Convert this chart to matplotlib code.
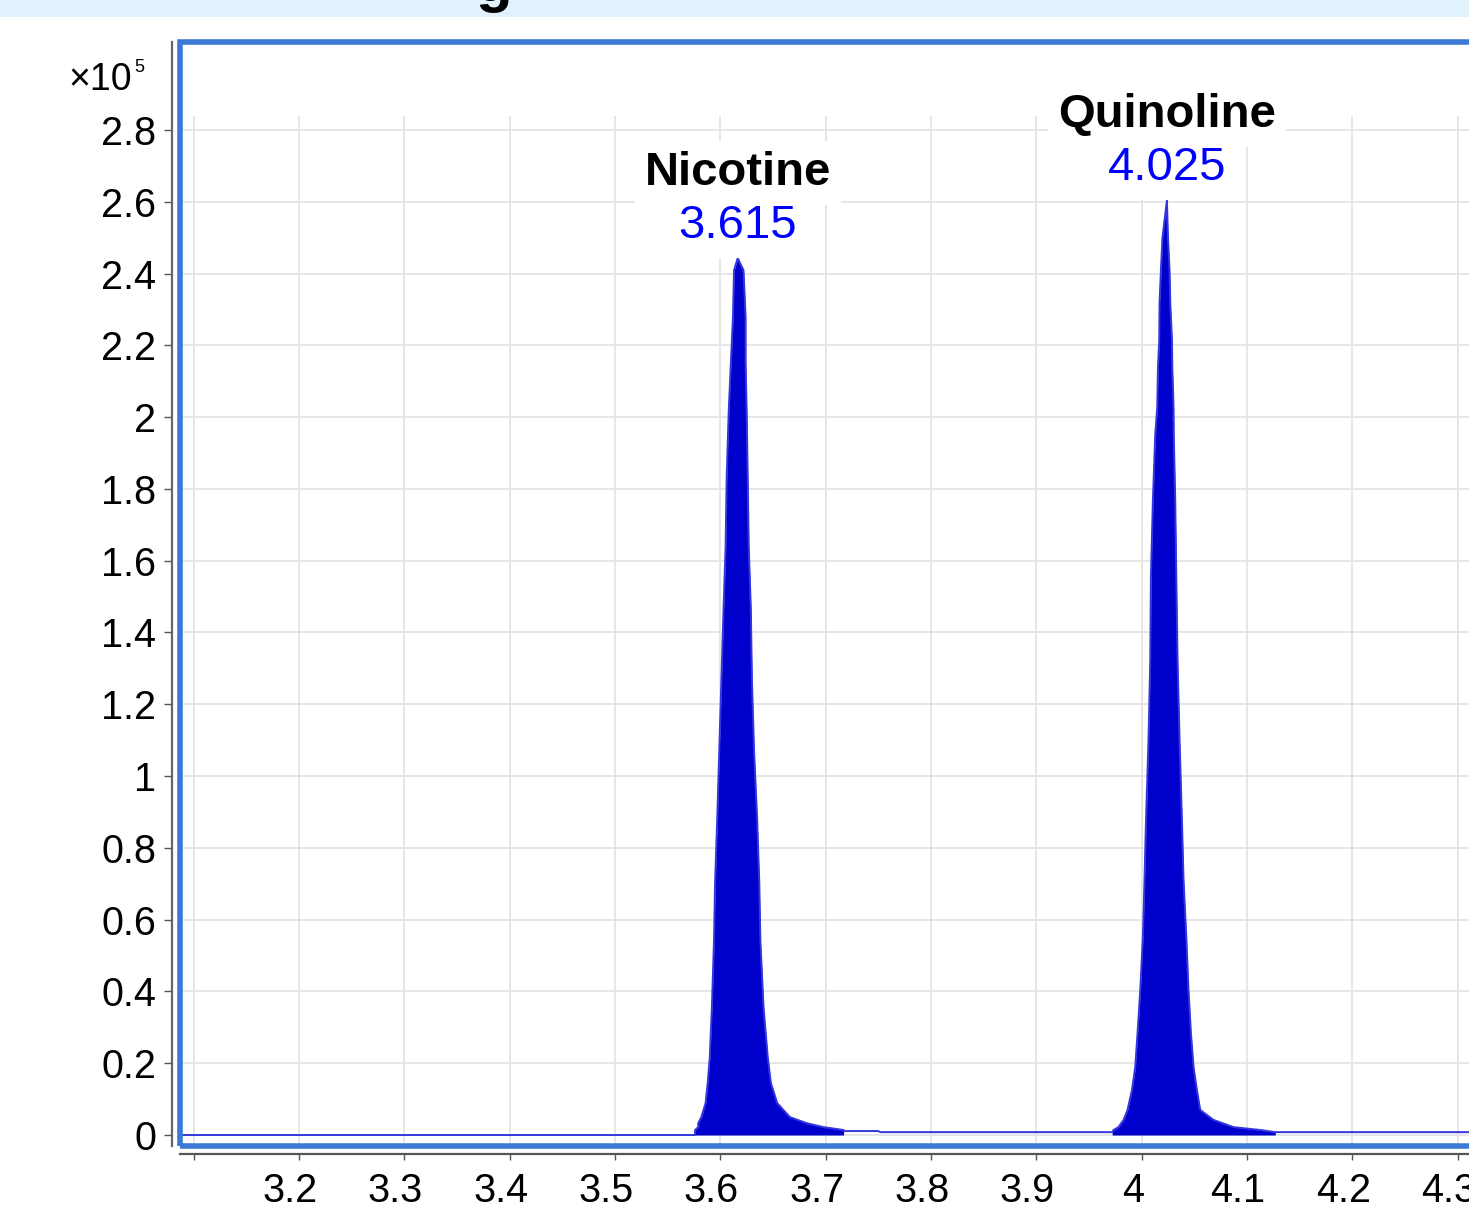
import numpy as np
import matplotlib
matplotlib.use("Agg")
import matplotlib.pyplot as plt
from matplotlib.patches import Rectangle
from matplotlib.transforms import ScaledTranslation

# chromatogram trace, intensity in units of 1e5 counts
nic_rt = [3.576, 3.576, 3.579, 3.579, 3.582, 3.586, 3.588, 3.590, 3.592, 3.594,
          3.595, 3.597, 3.599, 3.601, 3.603, 3.605, 3.606, 3.608, 3.610, 3.612,
          3.613, 3.6165, 3.622, 3.624, 3.624, 3.625, 3.626, 3.627, 3.629, 3.630,
          3.632, 3.635, 3.637, 3.638, 3.641, 3.645, 3.648, 3.654, 3.666, 3.682,
          3.698, 3.717]
nic_int = [0.0, 0.014, 0.022, 0.033, 0.050, 0.089, 0.145, 0.217, 0.357, 0.543,
           0.702, 0.877, 1.072, 1.267, 1.462, 1.638, 1.833, 2.019, 2.150, 2.279,
           2.409, 2.443, 2.409, 2.279, 2.150, 2.019, 1.833, 1.638, 1.462, 1.267,
           1.072, 0.877, 0.702, 0.543, 0.357, 0.217, 0.145, 0.089, 0.050, 0.033,
           0.022, 0.014]

qui_rt = [3.972, 3.9733, 3.978, 3.9828, 3.9866, 3.9908, 3.9939, 3.9961, 3.9987,
          4.0012, 4.0027, 4.0041, 4.0065, 4.0082, 4.0088, 4.0107, 4.0129, 4.0148,
          4.0155, 4.0167, 4.0170, 4.0183, 4.0198, 4.0240, 4.0250, 4.0265, 4.0272,
          4.0288, 4.0291, 4.0303, 4.0305, 4.0319, 4.0329, 4.0341, 4.0360, 4.0383,
          4.0398, 4.0424, 4.0445, 4.0468, 4.0493, 4.0525, 4.0556, 4.0683, 4.0873,
          4.1126, 4.1269]
qui_int = [0.008, 0.014, 0.022, 0.042, 0.070, 0.125, 0.189, 0.284, 0.404,
           0.552, 0.710, 0.872, 1.100, 1.323, 1.554, 1.769, 1.950, 2.028,
           2.139, 2.214, 2.318, 2.409, 2.501, 2.604, 2.501, 2.409, 2.318,
           2.214, 2.139, 2.028, 1.950, 1.769, 1.554, 1.323, 1.100, 0.872,
           0.710, 0.552, 0.404, 0.284, 0.189, 0.125, 0.070, 0.042, 0.022,
           0.014, 0.008]

base_rt = [3.05, 3.576, 3.718, 3.75, 3.752, 3.972, 4.1269, 4.40]
base_int = [0.0, 0.0, 0.011, 0.011, 0.008, 0.008, 0.008, 0.008]

peak_names = ["Nicotine", "Quinoline"]
peak_labels = ["3.615", "4.025"]

x_ticks = [3.1, 3.2, 3.3, 3.4, 3.5, 3.6, 3.7, 3.8, 3.9, 4.0, 4.1, 4.2, 4.3]
x_ticklabels = ["", "3.2", "3.3", "3.4", "3.5", "3.6", "3.7", "3.8", "3.9", "4", "4.1", "4.2", "4.3"]
y_ticks = [0, 0.2, 0.4, 0.6, 0.8, 1, 1.2, 1.4, 1.6, 1.8, 2, 2.2, 2.4, 2.6, 2.8]

plt.rcParams['font.family'] = ['Liberation Sans', 'DejaVu Sans']

W, H = 1469, 1210
fig = plt.figure(figsize=(W / 100, H / 100), dpi=100)

# light blue band of the slide above the chart, with a cropped title glyph
fig.patches.append(Rectangle((0, 1 - 17 / H), 1, 17 / H, transform=fig.transFigure,
                             fc='#e1f2fc', ec='none', zorder=0))
fig.text(494 / W, 1 - 1 / H, "g", fontsize=43, fontweight='bold',
         ha='center', va='baseline', color='black')

ax = fig.add_axes([180 / W, 1 - 1146 / H, 1.02 - 180 / W, (1146 - 42) / H])
ax.set_xlim(3.087, 4.3387)
ax.set_ylim(-0.0306, 3.045)

# grid
for y in y_ticks:
    ax.axhline(y, color='#e4e4e4', lw=1.3, zorder=0)
ax.vlines(x_ticks, -0.0306, 2.84, color='#e4e4e4', lw=1.3, zorder=0)

# trace
trace_rt = base_rt[:2] + nic_rt + base_rt[2:6] + qui_rt + base_rt[6:]
trace_int = base_int[:2] + nic_int + base_int[2:6] + qui_int + base_int[6:]
ax.fill_between(nic_rt, 0, nic_int, color='#0000cc', lw=0, zorder=2)
ax.fill_between(qui_rt, 0.0, qui_int, color='#0000cc', lw=0, zorder=2)
ax.plot(trace_rt, trace_int, color='#3535e0', lw=1.4, zorder=3)

# peak labels
apex_rt = [nic_rt[int(np.argmax(nic_int))], qui_rt[int(np.argmax(qui_int))]]
apex_int = [max(nic_int), max(qui_int)]
for rt, h, name, lab in zip(apex_rt, apex_int, peak_names, peak_labels):
    ax.annotate(lab, (rt, h), xytext=(0, 20), textcoords='offset pixels',
                ha='center', va='baseline', fontsize=34, color='#0000ff', zorder=5,
                bbox=dict(fc='white', ec='none', pad=7))
    ax.annotate(name, (rt, h), xytext=(0, 73), textcoords='offset pixels',
                ha='center', va='baseline', fontsize=34, fontweight='bold',
                color='black', zorder=5,
                bbox=dict(fc='white', ec='none', pad=7))

# axes styling
for s in ['top', 'right']:
    ax.spines[s].set_visible(False)
ax.spines['left'].set_position(('outward', 6))
ax.spines['left'].set_color('#666666')
ax.spines['left'].set_linestyle((0, (1, 1)))
ax.spines['left'].set_linewidth(1.6)
ax.spines['bottom'].set_position(('outward', 6))
ax.spines['bottom'].set_color('#555555')
ax.spines['bottom'].set_linewidth(1.6)
ax.add_patch(Rectangle((0, 0), 1, 1, transform=ax.transAxes, fill=False,
                       ec='#3b78d6', lw=4, clip_on=False, zorder=6))

ax.set_xticks(x_ticks)
ax.set_xticklabels(x_ticklabels)
ax.set_yticks(y_ticks)
ax.set_yticklabels(["%g" % v for v in y_ticks])
ax.tick_params(axis='y', direction='out', length=6, width=1, color='#555555',
               pad=5, labelsize=28.5)
ax.tick_params(axis='x', direction='out', length=4, width=1, color='#555555',
               pad=9, labelsize=28.5)
offset = ScaledTranslation(-9 / 100, 0, fig.dpi_scale_trans)
for lbl in ax.get_xticklabels():
    lbl.set_transform(lbl.get_transform() + offset)

fig.text(68 / W, 1 - 80 / H, "\u00d710", fontsize=27, ha='left', va='center')
fig.text(134 / W, 1 - 67 / H, "5", fontsize=13, ha='left', va='center')

fig.savefig("out.png", dpi=100)
